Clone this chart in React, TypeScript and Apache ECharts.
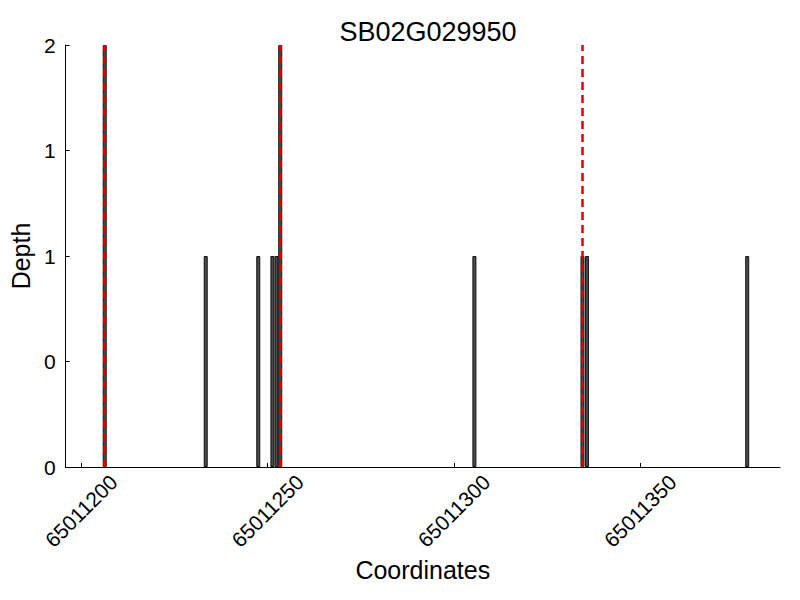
import React, { useEffect, useRef } from "react";
import * as echarts from "echarts";

const positions = [
  65011206.3, 65011233.4, 65011247.5, 65011251.3, 65011252.4, 65011253.4,
  65011305.5, 65011334.5, 65011335.7, 65011378.7,
];
const depths = [2, 1, 1, 1, 1, 2, 1, 1, 1, 1];
const redLines = [65011206.3, 65011253.4, 65011334.5];
const xTicks = [65011200, 65011250, 65011300, 65011350];
const xMin = 65011195.8;
const xMax = 65011387.5;
const yTicks = [0, 0.5, 1, 1.5, 2];

const FONT = "Liberation Sans";

export default function App() {
  const ref = useRef<HTMLDivElement>(null);
  useEffect(() => {
    if (!ref.current) return;
    const chart = echarts.init(ref.current, null, { renderer: "svg" });
    chart.setOption({
      animation: false,
      backgroundColor: "#fff",
      title: {
        text: "SB02G029950",
        left: 423,
        textAlign: "center",
        top: 13,
        textStyle: { fontFamily: FONT, fontSize: 27, fontWeight: "normal", color: "#000" },
      },
      grid: { left: 65, right: 20, top: 45, bottom: 133, containLabel: false },
      xAxis: {
        type: "value",
        min: xMin,
        max: xMax,
        name: "Coordinates",
        nameLocation: "middle",
        nameGap: 87,
        nameTextStyle: { fontFamily: FONT, fontSize: 25, color: "#000" },
        splitLine: { show: false },
        axisLine: { show: true, lineStyle: { color: "#000", width: 1 } },
        axisTick: {
          show: true,
          inside: true,
          length: 4,
          customValues: xTicks,
          lineStyle: { color: "#000", width: 1 },
        },
        axisLabel: {
          customValues: xTicks,
          rotate: 45,
          align: "center",
          verticalAlign: "middle",
          margin: 44,
          fontFamily: FONT,
          fontSize: 21,
          color: "#000",
          formatter: (v: number) => String(Math.round(v)),
        },
      },
      yAxis: {
        type: "value",
        min: 0,
        max: 2,
        interval: 0.5,
        name: "Depth",
        nameLocation: "middle",
        nameGap: 25,
        nameTextStyle: { fontFamily: FONT, fontSize: 25, color: "#000" },
        splitLine: { show: false },
        axisLine: { show: true, lineStyle: { color: "#000", width: 1 } },
        axisTick: { show: true, inside: true, length: 4, lineStyle: { color: "#000", width: 1 } },
        axisLabel: {
          margin: 10,
          fontFamily: FONT,
          fontSize: 21,
          color: "#000",
          formatter: (v: number) => (yTicks.includes(v) ? String(Math.trunc(v)) : ""),
        },
      },
      series: [
        {
          type: "bar",
          data: positions.map((p, i) => [p, depths[i]]),
          barWidth: 4,
          itemStyle: { color: "#4a4a4a", borderColor: "#111", borderWidth: 1 },
          z: 2,
        },
        {
          type: "line",
          data: [],
          z: 5,
          markLine: {
            silent: true,
            symbol: "none",
            label: { show: false },
            lineStyle: { color: "#e00000", width: 2.5, type: [8, 5] },
            data: redLines.map((x) => ({ xAxis: x })),
          },
        },
      ],
    });
    return () => chart.dispose();
  }, []);
  return <div ref={ref} style={{ width: 800, height: 600, position: "absolute", left: 0, top: 0 }} />;
}
